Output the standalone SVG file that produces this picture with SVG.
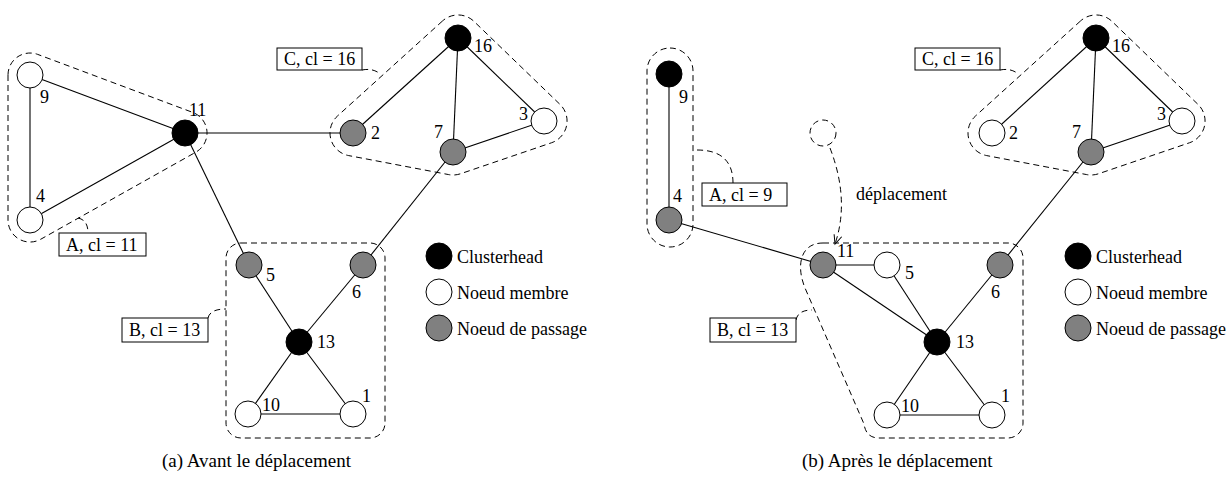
<svg xmlns="http://www.w3.org/2000/svg" width="1232" height="485" viewBox="0 0 1232 485">
<style>
.n{stroke:#000;stroke-width:1}
.ch{fill:#000}
.mb{fill:#fff}
.ps{fill:#808080}
.e{stroke:#000;stroke-width:1.1;fill:none}
.cl{stroke:#000;stroke-width:1;fill:none;stroke-dasharray:6 4}
.lb{font-family:"Liberation Serif","Times New Roman",serif;font-size:18px;fill:#000}
.bx{fill:#fff;stroke:#000;stroke-width:1}
.cap{font-family:"Liberation Serif","Times New Roman",serif;font-size:19px;fill:#000}
</style>
<defs>
<marker id="open" markerWidth="12" markerHeight="12" refX="0" refY="0" viewBox="-10 -6 12 12" orient="auto" markerUnits="userSpaceOnUse">
<path d="M-9,-4 L0,0 L-9,4" fill="none" stroke="#000" stroke-width="1"/>
</marker>
</defs>
<rect width="1232" height="485" fill="#fff"/>

<g id="clusters">
<path class="cl" d="M8,75 L8,220 A22 22 0 0 0 40.8,239.2 L195.8,152.2 A22 22 0 0 0 192.7,112.4 L37.7,54.4 A22 22 0 0 0 8,75 Z"/>
<path class="cl" d="M442.6,20.9 L337.6,115.9 A23 23 0 0 0 348.7,155.6 L448.7,174.6 A23 23 0 0 0 460.4,173.8 L551.4,142.8 A23 23 0 0 0 560,104.4 L474,21.4 A23 23 0 0 0 442.6,20.9 Z"/>
<rect class="cl" x="226" y="243" width="159" height="195" rx="15"/>
<rect class="cl" x="647" y="48" width="46" height="199" rx="23"/>
<path class="cl" d="M1080.6,20.9 L975.6,115.9 A23 23 0 0 0 986.7,155.6 L1086.7,174.6 A23 23 0 0 0 1098.4,173.8 L1189.4,142.8 A23 23 0 0 0 1198,104.4 L1112,21.4 A23 23 0 0 0 1080.6,20.9 Z"/>
<path class="cl" d="M823,243 L1008,243 A15 15 0 0 1 1023,258 L1023,423 A15 15 0 0 1 1008,438 L879,438 Q866,438 864,424 L805,288 C796,266 800,243 823,243 Z"/>
<circle class="cl" cx="823" cy="133" r="13"/>
</g>

<g id="connectors">
<line class="e" x1="30" y1="75" x2="30" y2="220"/>
<line class="e" x1="30" y1="75" x2="185" y2="133"/>
<line class="e" x1="30" y1="220" x2="185" y2="133"/>
<line class="e" x1="185" y1="133" x2="353" y2="133"/>
<line class="e" x1="185" y1="133" x2="249" y2="265"/>
<line class="e" x1="353" y1="133" x2="458" y2="38"/>
<line class="e" x1="458" y1="38" x2="453" y2="152"/>
<line class="e" x1="458" y1="38" x2="544" y2="121"/>
<line class="e" x1="453" y1="152" x2="544" y2="121"/>
<line class="e" x1="453" y1="152" x2="363" y2="265"/>
<line class="e" x1="249" y1="265" x2="299" y2="342"/>
<line class="e" x1="363" y1="265" x2="299" y2="342"/>
<line class="e" x1="299" y1="342" x2="248" y2="414"/>
<line class="e" x1="299" y1="342" x2="353" y2="414"/>
<line class="e" x1="248" y1="414" x2="353" y2="414"/>

<line class="e" x1="669" y1="74" x2="669" y2="220"/>
<line class="e" x1="669" y1="220" x2="823" y2="265"/>
<line class="e" x1="823" y1="265" x2="887" y2="265"/>
<line class="e" x1="823" y1="265" x2="937" y2="342"/>
<line class="e" x1="887" y1="265" x2="937" y2="342"/>
<line class="e" x1="1000" y1="265" x2="937" y2="342"/>
<line class="e" x1="937" y1="342" x2="887" y2="415"/>
<line class="e" x1="937" y1="342" x2="992" y2="415"/>
<line class="e" x1="887" y1="415" x2="992" y2="415"/>
<line class="e" x1="1000" y1="265" x2="1091" y2="152"/>
<line class="e" x1="1096" y1="38" x2="1091" y2="152"/>
<line class="e" x1="1096" y1="38" x2="992" y2="133"/>
<line class="e" x1="1096" y1="38" x2="1182" y2="121"/>
<line class="e" x1="1091" y1="152" x2="1182" y2="121"/>

<path class="cl" d="M78,218 Q88,220 88,233"/>
<path class="cl" d="M362,70 Q372,68 379,73"/>
<path class="cl" d="M208,318 Q210,309 226,309"/>
<path class="cl" d="M697,150 Q733,150 733,183"/>
<path class="cl" d="M1000,70 Q1010,68 1017,73"/>
<path class="cl" d="M796,320 Q798,310 812,310"/>
<path class="cl" d="M830,148 Q850,200 835,244" marker-end="url(#open)"/>
</g>

<g id="node-a9"><circle class="n mb" cx="30" cy="75" r="13"/><text class="lb" x="40" y="103">9</text></g>
<g id="node-a4"><circle class="n mb" cx="30" cy="220" r="13"/><text class="lb" x="36" y="202">4</text></g>
<g id="node-a11"><circle class="n ch" cx="185" cy="133" r="13"/><text class="lb" x="189" y="116">11</text></g>
<g id="node-a2"><circle class="n ps" cx="353" cy="133" r="13"/><text class="lb" x="371" y="139">2</text></g>
<g id="node-a16"><circle class="n ch" cx="458" cy="38" r="13"/><text class="lb" x="474" y="52">16</text></g>
<g id="node-a3"><circle class="n mb" cx="544" cy="121" r="13"/><text class="lb" x="519" y="120">3</text></g>
<g id="node-a7"><circle class="n ps" cx="453" cy="152" r="13"/><text class="lb" x="434" y="138">7</text></g>
<g id="node-a5"><circle class="n ps" cx="249" cy="265" r="13"/><text class="lb" x="266" y="281">5</text></g>
<g id="node-a6"><circle class="n ps" cx="363" cy="265" r="13"/><text class="lb" x="352" y="298">6</text></g>
<g id="node-a13"><circle class="n ch" cx="299" cy="342" r="13"/><text class="lb" x="317" y="348">13</text></g>
<g id="node-a10"><circle class="n mb" cx="248" cy="414" r="13"/><text class="lb" x="262" y="411">10</text></g>
<g id="node-a1"><circle class="n mb" cx="353" cy="414" r="13"/><text class="lb" x="362" y="402">1</text></g>

<g id="label-a-A"><rect class="bx" x="59" y="233" width="87" height="23"/><text class="lb" x="66" y="251">A, cl = 11</text></g>
<g id="label-a-C"><rect class="bx" x="277" y="48" width="85" height="22"/><text class="lb" x="284" y="65">C, cl = 16</text></g>
<g id="label-a-B"><rect class="bx" x="122" y="318" width="86" height="24"/><text class="lb" x="129" y="336">B, cl = 13</text></g>

<g id="legend-a">
<circle class="n ch" cx="439" cy="256" r="13"/><text class="lb" x="457" y="263">Clusterhead</text>
<circle class="n mb" cx="439" cy="292" r="13"/><text class="lb" x="457" y="299">Noeud membre</text>
<circle class="n ps" cx="439" cy="328" r="13"/><text class="lb" x="457" y="335">Noeud de passage</text>
</g>

<g id="node-b9"><circle class="n ch" cx="669" cy="74" r="13"/><text class="lb" x="679" y="103">9</text></g>
<g id="node-b4"><circle class="n ps" cx="669" cy="220" r="13"/><text class="lb" x="673" y="202">4</text></g>
<g id="node-b11"><circle class="n ps" cx="823" cy="265" r="13"/><text class="lb" x="837" y="257">11</text></g>
<g id="node-b5"><circle class="n mb" cx="887" cy="265" r="13"/><text class="lb" x="905" y="279">5</text></g>
<g id="node-b6"><circle class="n ps" cx="1000" cy="265" r="13"/><text class="lb" x="991" y="298">6</text></g>
<g id="node-b13"><circle class="n ch" cx="937" cy="342" r="13"/><text class="lb" x="956" y="348">13</text></g>
<g id="node-b10"><circle class="n mb" cx="887" cy="415" r="13"/><text class="lb" x="901" y="412">10</text></g>
<g id="node-b1"><circle class="n mb" cx="992" cy="415" r="13"/><text class="lb" x="1001" y="402">1</text></g>
<g id="node-b2"><circle class="n mb" cx="992" cy="133" r="13"/><text class="lb" x="1009" y="139">2</text></g>
<g id="node-b16"><circle class="n ch" cx="1096" cy="38" r="13"/><text class="lb" x="1112" y="52">16</text></g>
<g id="node-b3"><circle class="n mb" cx="1182" cy="121" r="13"/><text class="lb" x="1157" y="120">3</text></g>
<g id="node-b7"><circle class="n ps" cx="1091" cy="152" r="13"/><text class="lb" x="1072" y="138">7</text></g>

<g id="label-b-A"><rect class="bx" x="702" y="183" width="85" height="23"/><text class="lb" x="709" y="201">A, cl = 9</text></g>
<g id="label-b-C"><rect class="bx" x="915" y="48" width="85" height="22"/><text class="lb" x="922" y="65">C, cl = 16</text></g>
<g id="label-b-B"><rect class="bx" x="710" y="318" width="86" height="24"/><text class="lb" x="717" y="336">B, cl = 13</text></g>
<text class="lb" x="856" y="200">déplacement</text>

<g id="legend-b">
<circle class="n ch" cx="1078" cy="256" r="13"/><text class="lb" x="1096" y="263">Clusterhead</text>
<circle class="n mb" cx="1078" cy="292" r="13"/><text class="lb" x="1096" y="299">Noeud membre</text>
<circle class="n ps" cx="1078" cy="328" r="13"/><text class="lb" x="1096" y="335">Noeud de passage</text>
</g>

<text class="cap" x="162" y="467">(a) Avant le déplacement</text>
<text class="cap" x="802" y="467">(b) Après le déplacement</text>
</svg>
